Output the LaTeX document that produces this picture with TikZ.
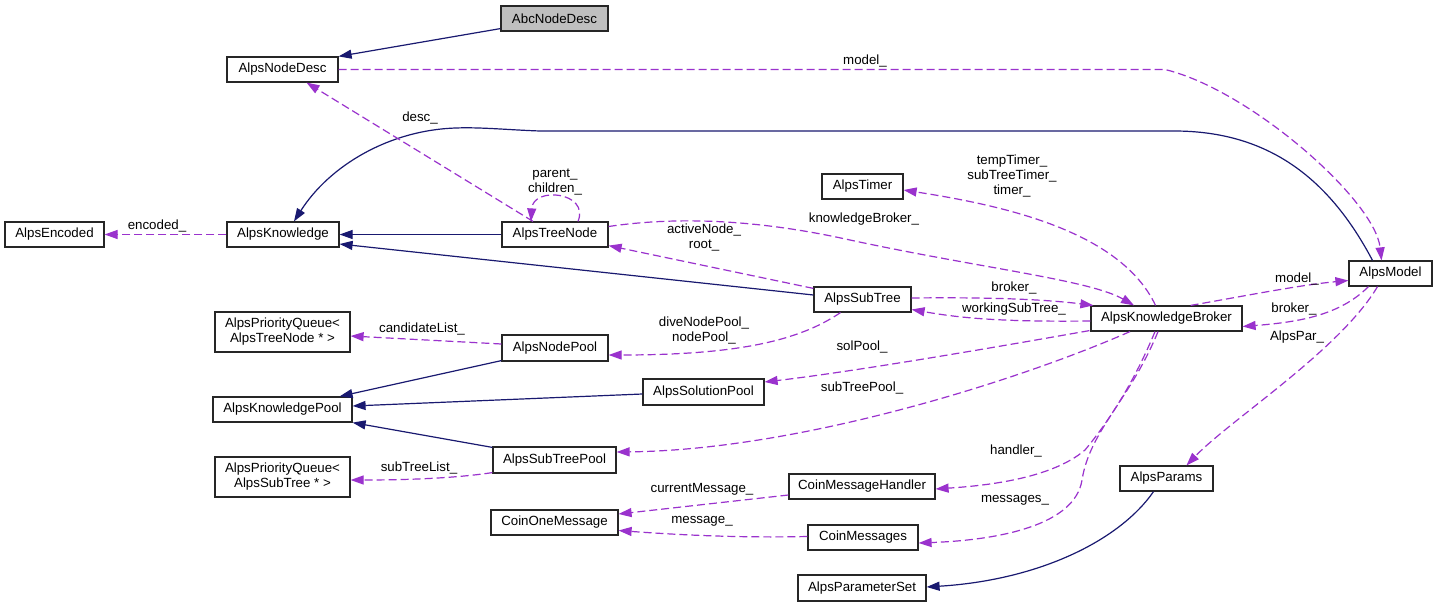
\documentclass[tikz,border=0pt]{standalone}
\usepackage{fontspec}
\setmainfont{Liberation Sans}
\usetikzlibrary{arrows.meta,calc}
\definecolor{navy}{HTML}{191970}
\definecolor{orch}{HTML}{9A32CD}
\begin{document}
\begin{tikzpicture}[x=1pt,y=-1pt,
  font=\fontsize{13.3}{15}\selectfont,
  box/.style={draw=black!85, line width=1.2pt, fill=white, inner sep=0pt, minimum height=25pt, align=center},
  inh/.style={draw=navy, line width=1.2pt, -{Triangle[length=13pt,width=9pt,fill=navy]}},
  use/.style={draw=orch, line width=1.2pt, dash pattern=on 8pt off 4pt, -{Triangle[length=13pt,width=9pt,fill=orch]}},
  lab/.style={inner sep=0pt, align=center}]
\fill[white] (0,0) rectangle (1437,607);
\useasboundingbox (0,0) rectangle (1437,607);

% nodes
\node[box, fill=black!25, minimum width=107pt] (abc) at (554.5,18.5) {AbcNodeDesc};
\node[box, minimum width=111pt] (nodedesc) at (282.5,69.5) {AlpsNodeDesc};
\node[box, minimum width=99pt] (encoded) at (54.5,234.5) {AlpsEncoded};
\node[box, minimum width=112pt] (knowledge) at (283,234.5) {AlpsKnowledge};
\node[box, minimum width=106pt] (treenode) at (555,234.5) {AlpsTreeNode};
\node[box, minimum width=81pt] (timer) at (862.5,186.5) {AlpsTimer};
\node[box, minimum width=97pt] (subtree) at (862.5,299.5) {AlpsSubTree};
\node[box, minimum width=151pt] (broker) at (1166.5,318.5) {AlpsKnowledgeBroker};
\node[box, minimum width=83pt] (model) at (1390.5,273.5) {AlpsModel};
\node[box, minimum width=106pt, minimum height=26pt] (nodepool) at (555,348) {AlpsNodePool};
\node[box, minimum width=135pt, minimum height=40pt] (pqtree) at (282.5,332) {AlpsPriorityQueue<\\AlpsTreeNode * >};
\node[box, minimum width=139pt] (kpool) at (282.5,409.5) {AlpsKnowledgePool};
\node[box, minimum width=121pt, minimum height=26pt] (solpool) at (703.5,392) {AlpsSolutionPool};
\node[box, minimum width=123pt, minimum height=26pt] (stpool) at (554.5,460) {AlpsSubTreePool};
\node[box, minimum width=135pt, minimum height=40pt] (pqsub) at (282.5,477) {AlpsPriorityQueue<\\AlpsSubTree * >};
\node[box, minimum width=127pt] (onemsg) at (554.5,522.5) {CoinOneMessage};
\node[box, minimum width=146pt] (handler) at (862,486.5) {CoinMessageHandler};
\node[box, minimum width=110pt] (messages) at (863,537.5) {CoinMessages};
\node[box, minimum width=93pt] (params) at (1166.5,478.5) {AlpsParams};
\node[box, minimum width=128pt, minimum height=26pt] (paramset) at (862,588) {AlpsParameterSet};

% inheritance (solid)
\draw[inh] ($(abc.south west)+(0,-3)$) -- (nodedesc.north east);
\draw[inh] ($(model.north)+(-18,0)$) .. controls (1330,180) and (1270,131) .. (1174,131)
  -- (540,131) .. controls (510,130) and (480,127) .. (456,128)
  .. controls (390,130) and (330,165) .. ($(knowledge.north)+(11,0)$);
\draw[inh] (treenode.west) -- (knowledge.east);
\draw[inh] ($(subtree.west)+(0,-4.5)$) -- ($(knowledge.east)+(0,9.5)$);
\draw[inh] ($(nodepool.south west)+(0,-1)$) -- ($(kpool.north east)+(-13,0)$);
\draw[inh] ($(solpool.west)+(0,2)$) -- ($(kpool.east)+(0,-3.5)$);
\draw[inh] ($(stpool.north west)+(0,1)$) -- (kpool.south east);
\draw[inh] ($(params.south)+(-13,0)$) .. controls (1120,540) and (1040,580) .. ($(paramset.east)+(0,-1)$);

% usage (dashed)
\draw[use] (nodedesc.east) -- (1165,69.5) .. controls (1250,90) and (1375,200) .. ($(model.north)+(-9,0)$);
\node[lab] (l1) at (865,61) {model\_};
\draw[use] ($(treenode.north)+(-22,0)$) -- ($(nodedesc.south)+(24,0)$);
\node[lab] (l2) at (420,118) {desc\_};
\draw[use] (knowledge.west) -- (encoded.east);
\node[lab] (l3) at (157,226) {encoded\_};
\draw[use] ($(treenode.north)+(23,0)$) .. controls (590,192) and (533,186) .. ($(treenode.north)+(-24,0)$);
\node[lab] (l4) at (555,182) {parent\_\\children\_};
\draw[use] ($(treenode.east)+(0,-8)$) .. controls (680,216) and (760,220) .. (850,240)
  .. controls (980,268) and (1090,280) .. ($(broker.north)+(-32.5,0)$);
\node[lab] (l5) at (864,219) {knowledgeBroker\_};
\draw[use] ($(subtree.north west)+(0,2)$) -- ($(treenode.south east)+(0,-2)$);
\node[lab] (l6) at (704,238) {activeNode\_\\root\_};
\draw[use] ($(broker.north)+(-11,0)$) .. controls (1120,230) and (1000,205) .. ($(timer.east)+(0,3.5)$);
\node[lab] (l7) at (1012,176) {tempTimer\_\\subTreeTimer\_\\timer\_};
\draw[use] ($(subtree.east)+(0,-1.5)$) .. controls (1000,297) and (1050,300) .. ($(broker.north west)+(3,0)$);
\node[lab] (l8) at (1014,288) {broker\_};
\draw[use] ($(broker.west)+(0,2.5)$) .. controls (1000,322) and (960,318) .. ($(subtree.east)+(0,10)$);
\node[lab] (l9) at (1014,309) {workingSubTree\_};
\draw[use] ($(subtree.south)+(-22,0)$) .. controls (800,340) and (740,355) .. ($(nodepool.east)+(0,7)$);
\node[lab] (l10) at (704,330) {diveNodePool\_\\nodePool\_};
\draw[use] ($(nodepool.west)+(0,-4)$) -- ($(pqtree.east)+(0,4)$);
\node[lab] (l11) at (422,329) {candidateList\_};
\draw[use] ($(stpool.south west)+(0,-1)$) .. controls (470,476) and (430,480) .. ($(pqsub.east)+(0,3)$);
\node[lab] (l12) at (419,468) {subTreeList\_};
\draw[use] ($(broker.south west)+(-1,-1)$) .. controls (980,350) and (850,372) .. ($(solpool.east)+(0,-10)$);
\node[lab] (l13) at (862,347) {solPool\_};
\draw[use] ($(broker.south)+(-36.5,0)$) .. controls (1020,380) and (800,450) .. ($(stpool.east)+(0,-8)$);
\node[lab] (l14) at (862,388) {subTreePool\_};
\draw[use] ($(broker.south)+(-11.5,0)$) .. controls (1135,380) and (1110,420) .. (1085,450)
  .. controls (1050,480) and (980,486) .. ($(handler.east)+(0,2.5)$);
\node[lab] (l15) at (1016,451) {handler\_};
\draw[use] ($(broker.south)+(-8.5,0)$) .. controls (1130,400) and (1090,430) .. (1082,480)
  .. controls (1075,525) and (1000,540) .. ($(messages.east)+(0,5.5)$);
\node[lab] (l16) at (1015,500) {messages\_};
\draw[use] ($(handler.west)+(0,8.5)$) -- ($(onemsg.east)+(0,-8.5)$);
\node[lab] (l17) at (702,489) {currentMessage\_};
\draw[use] ($(messages.west)+(0,-1)$) .. controls (740,538) and (680,535) .. ($(onemsg.east)+(0,8)$);
\node[lab] (l18) at (702,521) {message\_};
\draw[use] ($(broker.north east)+(-52,0)$) .. controls (1250,295) and (1300,285) .. ($(model.west)+(0,7)$);
\node[lab] (l19) at (1297,279) {model\_};
\draw[use] ($(model.south)+(-22,0)$) .. controls (1340,315) and (1300,322) .. ($(broker.east)+(0,8)$);
\node[lab] (l20) at (1294,309) {broker\_};
\draw[use] ($(model.south)+(-13,0)$) .. controls (1340,350) and (1230,420) .. ($(params.north)+(20,0)$);
\node[lab] (l21) at (1297,337) {AlpsPar\_};
\end{tikzpicture}
\end{document}
